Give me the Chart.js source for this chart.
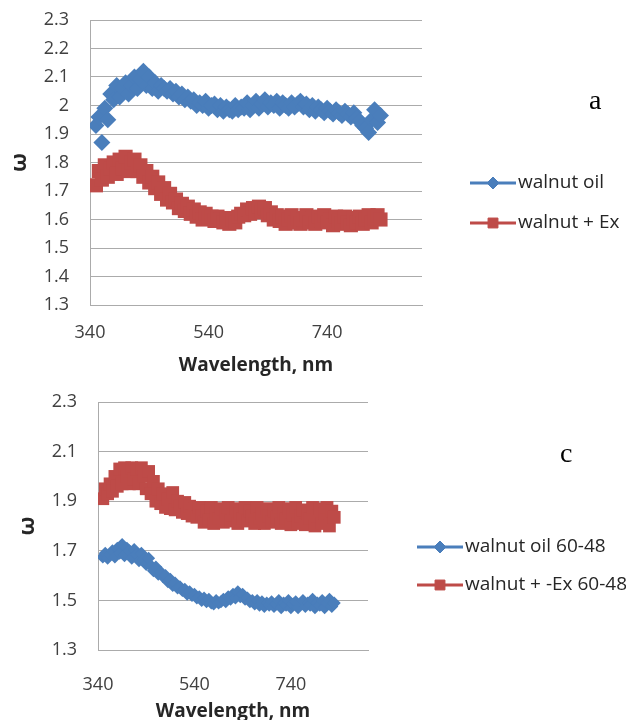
<!DOCTYPE html>
<html>
<head>
<meta charset="utf-8">
<script src="https://cdn.jsdelivr.net/npm/chart.js@4.4.0/dist/chart.umd.min.js"></script>
<style>
    html, body { margin: 0; padding: 0; background: #fff; }
    body { width: 626px; height: 720px; position: relative; overflow: hidden; }
    .grafico { position: absolute; left: 0; }
    .grafico canvas { display: block; }
    .letra { position: absolute; font-family: "Liberation Serif", "DejaVu Serif", serif; font-size: 28px; line-height: 1; color: #000; }
</style>
</head>
<body>
<div class="grafico" style="top:0"><canvas id="chartA" width="626" height="380"></canvas></div>
<div class="grafico" style="top:380px"><canvas id="chartC" width="626" height="340"></canvas></div>
<div class="letra" style="left:589px; top:86px">a</div>
<div class="letra" style="left:560px; top:439px">c</div>

<script>
// comprimentos de onda (nm) - iguais nos dois gráficos
var comprimentoOnda = [
    350, 355, 360, 365, 370, 375, 380, 385, 390, 395,
    400, 405, 410, 415, 420, 425, 430, 435, 440, 445,
    450, 455, 460, 465, 470, 475, 480, 485, 490, 495,
    500, 505, 510, 515, 520, 525, 530, 535, 540, 545,
    550, 555, 560, 565, 570, 575, 580, 585, 590, 595,
    600, 605, 610, 615, 620, 625, 630, 635, 640, 645,
    650, 655, 660, 665, 670, 675, 680, 685, 690, 695,
    700, 705, 710, 715, 720, 725, 730, 735, 740, 745,
    750, 755, 760, 765, 770, 775, 780, 785, 790, 795,
    800, 805, 810, 815, 820, 825, 830
];

// gráfico a
var oleoNozA = [
    1.93, 1.96, 1.87, 1.99, 1.95, 2.04, 2.02, 2.07, 2.03, 2.06,
    2.08, 2.04, 2.07, 2.10, 2.06, 2.09, 2.12, 2.07, 2.10, 2.06,
    2.08, 2.05, 2.07, 2.06, 2.05, 2.06, 2.04, 2.05, 2.03, 2.04,
    2.02, 2.03, 2.015, 2.02, 2.00, 2.01, 2.00, 2.015, 1.99, 2.00,
    2.005, 1.985, 2.00, 1.98, 1.995, 1.985, 1.98, 2.00, 1.985, 1.995,
    1.99, 2.01, 1.985, 2.00, 2.015, 1.99, 2.005, 2.02, 1.995, 2.01,
    2.00, 2.015, 1.99, 2.01, 2.00, 1.99, 2.01, 1.995, 2.005, 2.015,
    1.995, 2.005, 1.985, 2.00, 1.98, 1.995, 1.985, 1.975, 1.99, 1.98,
    1.97, 1.985, 1.975, 1.965, 1.98, 1.97, 1.96, 1.975, 1.955, 1.945,
    1.93, 1.92, 1.905, 1.95, 1.985, 1.94, 1.965
];
var nozExA = [
    1.72, 1.77, 1.74, 1.79, 1.75, 1.78, 1.80, 1.76, 1.81, 1.78,
    1.82, 1.77, 1.80, 1.81, 1.77, 1.79, 1.75, 1.77, 1.73, 1.75,
    1.71, 1.73, 1.69, 1.71, 1.67, 1.69, 1.66, 1.67, 1.64, 1.655,
    1.63, 1.645, 1.62, 1.635, 1.61, 1.625, 1.60, 1.62, 1.605, 1.61,
    1.595, 1.61, 1.60, 1.59, 1.605, 1.585, 1.60, 1.59, 1.61, 1.62,
    1.615, 1.635, 1.62, 1.64, 1.625, 1.645, 1.63, 1.64, 1.615, 1.625,
    1.60, 1.615, 1.595, 1.61, 1.585, 1.60, 1.615, 1.59, 1.605, 1.585,
    1.60, 1.615, 1.59, 1.605, 1.585, 1.61, 1.595, 1.615, 1.59, 1.60,
    1.58, 1.61, 1.595, 1.585, 1.61, 1.59, 1.58, 1.605, 1.59, 1.61,
    1.585, 1.60, 1.615, 1.59, 1.605, 1.615, 1.60
];

// gráfico c
var oleoNozC = [
    1.675, 1.69, 1.67, 1.685, 1.70, 1.675, 1.71, 1.69, 1.725, 1.68,
    1.71, 1.70, 1.67, 1.705, 1.685, 1.66, 1.69, 1.665, 1.645, 1.67,
    1.64, 1.62, 1.635, 1.605, 1.615, 1.595, 1.60, 1.575, 1.585, 1.56,
    1.57, 1.55, 1.555, 1.54, 1.545, 1.525, 1.535, 1.52, 1.525, 1.51,
    1.515, 1.50, 1.51, 1.495, 1.505, 1.49, 1.485, 1.50, 1.49, 1.495,
    1.505, 1.495, 1.515, 1.505, 1.525, 1.51, 1.535, 1.515, 1.525, 1.505,
    1.51, 1.495, 1.50, 1.485, 1.50, 1.48, 1.495, 1.475, 1.49, 1.48,
    1.495, 1.475, 1.485, 1.50, 1.47, 1.49, 1.48, 1.50, 1.47, 1.485,
    1.495, 1.47, 1.485, 1.50, 1.475, 1.49, 1.48, 1.505, 1.47, 1.49,
    1.48, 1.50, 1.47, 1.49, 1.505, 1.475, 1.49
];
var nozExC = [
    1.91, 1.95, 1.93, 1.97, 1.94, 2.00, 1.96, 2.03, 1.97, 2.035,
    2.00, 1.97, 2.035, 1.99, 2.03, 1.97, 2.035, 2.00, 1.95, 2.02,
    1.93, 1.98, 1.90, 1.95, 1.89, 1.93, 1.875, 1.91, 1.87, 1.935,
    1.865, 1.90, 1.88, 1.855, 1.895, 1.85, 1.88, 1.84, 1.87, 1.835,
    1.875, 1.84, 1.815, 1.86, 1.825, 1.875, 1.81, 1.85, 1.83, 1.87,
    1.815, 1.85, 1.875, 1.82, 1.845, 1.87, 1.81, 1.85, 1.83, 1.875,
    1.82, 1.86, 1.84, 1.81, 1.875, 1.83, 1.85, 1.81, 1.87, 1.84,
    1.815, 1.86, 1.835, 1.875, 1.81, 1.85, 1.83, 1.87, 1.805, 1.845,
    1.875, 1.81, 1.84, 1.865, 1.805, 1.85, 1.83, 1.875, 1.80, 1.84,
    1.87, 1.81, 1.85, 1.875, 1.80, 1.86, 1.835
];

// rótulos dos eixos
var ticksX = [340, 540, 740];
var ticksYA = [1.3, 1.4, 1.5, 1.6, 1.7, 1.8, 1.9, 2.0, 2.1, 2.2, 2.3];
var ticksYC = [1.3, 1.5, 1.7, 1.9, 2.1, 2.3];

var legendaA = ['walnut oil', 'walnut + Ex'];
var legendaC = ['walnut oil 60-48', 'walnut + -Ex 60-48'];

var azul = '#4a7ebb';
var vermelho = '#be4b48';
var corGrade = '#ababab';
var fonteBase = '"Open Sans", "Noto Sans", sans-serif';

// junta x e y para o scatter
function montarPontos(xs, ys) {
    var pontos = [];
    for (var i = 0; i < xs.length; i++) {
        pontos.push({ x: xs[i], y: ys[i] });
    }
    return pontos;
}

// legenda desenhada ao lado do gráfico (posição fixa, como no Excel)
var legendaLateral = {
    id: 'legendaLateral',
    afterDraw: function (chart, args, opts) {
        var ctx = chart.ctx;
        ctx.save();
        chart.data.datasets.forEach(function (ds, i) {
            var y = opts.y[i];
            ctx.strokeStyle = ds.borderColor;
            ctx.lineWidth = 3;
            ctx.beginPath();
            ctx.moveTo(opts.x, y);
            ctx.lineTo(opts.x + 46, y);
            ctx.stroke();
            ctx.fillStyle = ds.backgroundColor;
            ctx.strokeStyle = ds.borderColor;
            ctx.lineWidth = 1;
            Chart.helpers.drawPoint(ctx, {
                pointStyle: ds.pointStyle,
                radius: ds.pointStyle == 'rect' ? 7 : 6,
                borderWidth: 1,
                rotation: 0
            }, opts.x + 23, y);
            ctx.fillStyle = '#262626';
            ctx.font = '19px ' + fonteBase;
            ctx.textAlign = 'left';
            ctx.textBaseline = 'middle';
            ctx.fillText(ds.label, opts.x + 48, y);
        });
        ctx.restore();
    }
};

function criarGrafico(idCanvas, conf) {
    var dados = {
        datasets: [
            {
                label: conf.legenda[0],
                data: montarPontos(comprimentoOnda, conf.serieAzul),
                pointStyle: 'rectRot',
                pointRadius: conf.raioAzul,
                backgroundColor: azul,
                borderColor: azul,
                borderWidth: 0,
                showLine: false
            },
            {
                label: conf.legenda[1],
                data: montarPontos(comprimentoOnda, conf.serieVermelha),
                pointStyle: 'rect',
                pointRadius: conf.raioVermelho,
                backgroundColor: vermelho,
                borderColor: vermelho,
                borderWidth: 0,
                showLine: false
            }
        ]
    };

    var config = {
        type: 'scatter',
        data: dados,
        plugins: [legendaLateral],
        options: {
            responsive: false,
            animation: false,
            events: [],
            layout: { autoPadding: false, padding: { top: conf.topo, right: conf.direita, left: 0, bottom: 0 } },
            plugins: {
                legend: { display: false },
                tooltip: { enabled: false },
                legendaLateral: conf.posLegenda
            },
            scales: {
                x: {
                    type: 'linear',
                    min: 340,
                    max: 900,
                    afterBuildTicks: function (scale) {
                        scale.ticks = ticksX.map(function (v) { return { value: v }; });
                    },
                    afterFit: function (scale) {
                        scale.height = conf.alturaX;
                        scale.paddingLeft = 0;
                        scale.paddingRight = 0;
                    },
                    grid: { display: false, drawTicks: false },
                    border: { display: true, color: corGrade, width: 1 },
                    ticks: {
                        padding: conf.padTickX,
                        maxRotation: 0,
                        color: '#404040',
                        font: { family: fonteBase, size: 18 }
                    },
                    title: {
                        display: true,
                        text: 'Wavelength, nm',
                        color: '#262626',
                        padding: { top: 0, bottom: conf.padTituloX },
                        font: { family: fonteBase, size: 19, weight: 'bold' }
                    }
                },
                y: {
                    min: 1.3,
                    max: 2.3,
                    afterBuildTicks: function (scale) {
                        scale.ticks = conf.ticksY.map(function (v) { return { value: v }; });
                    },
                    afterFit: function (scale) {
                        // largura fixa e sem folga extra em cima/embaixo
                        scale.width = conf.larguraY;
                        scale.paddingTop = 0;
                        scale.paddingBottom = 0;
                    },
                    grid: { color: corGrade, lineWidth: 1, drawTicks: false },
                    border: { display: true, color: corGrade, width: 1 },
                    ticks: {
                        padding: 21,
                        color: '#404040',
                        font: { family: fonteBase, size: 18 },
                        callback: function (v) { return String(+v.toFixed(1)); }
                    },
                    title: {
                        display: true,
                        text: 'ω',
                        color: '#262626',
                        padding: { top: conf.padTituloY, bottom: 0 },
                        font: { family: fonteBase, size: 22, weight: 'bold' }
                    }
                }
            }
        }
    };

    return new Chart(document.getElementById(idCanvas), config);
}

criarGrafico('chartA', {
    legenda: legendaA,
    serieAzul: oleoNozA,
    serieVermelha: nozExA,
    raioAzul: 8.5,
    raioVermelho: 10,
    ticksY: ticksYA,
    topo: 20,
    direita: 204,
    larguraY: 90,
    alturaX: 75,
    padTickX: 17,
    padTituloX: 3,
    padTituloY: 7,
    posLegenda: { x: 470, y: [183, 223] }
});

criarGrafico('chartC', {
    legenda: legendaC,
    serieAzul: oleoNozC,
    serieVermelha: nozExC,
    raioAzul: 6.5,
    raioVermelho: 9,
    ticksY: ticksYC,
    topo: 22,
    direita: 258,
    larguraY: 98,
    alturaX: 70,
    padTickX: 24,
    padTituloX: -3,
    padTituloY: 15,
    posLegenda: { x: 417, y: [167, 205] }
});
</script>
</body>
</html>
